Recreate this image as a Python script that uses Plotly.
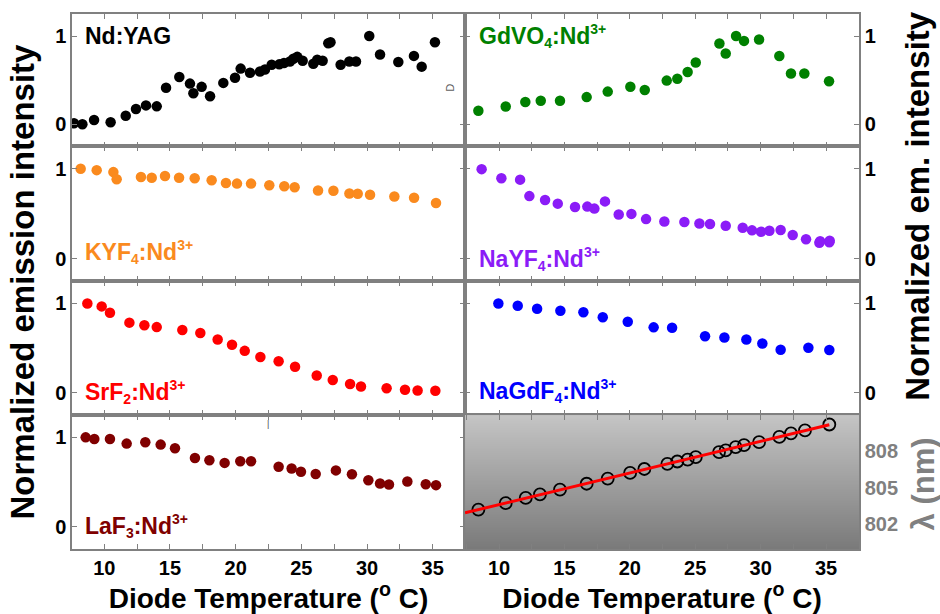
import numpy as np
import plotly.graph_objects as go

# ---------------- data ----------------
yag_T = [7.69, 8.33, 9.22, 10.48, 11.63, 12.41, 13.17, 13.99, 14.70, 15.71, 16.52, 16.78, 17.41, 18.05,
         19.06, 19.95, 20.38, 21.09, 21.85, 22.23, 22.74, 23.32, 23.68, 24.13, 24.39, 24.69, 25.10, 25.91,
         26.21, 26.62, 27.05, 27.22, 27.99, 28.65, 29.16, 30.17, 30.99, 32.38, 33.57, 34.16, 35.17]
yag_I = [0.011, 0.0, 0.048, 0.022, 0.096, 0.173, 0.214, 0.203, 0.413, 0.535, 0.461, 0.351, 0.424, 0.317,
         0.469, 0.528, 0.631, 0.583, 0.598, 0.620, 0.675, 0.679, 0.694, 0.712, 0.742, 0.764, 0.720, 0.686,
         0.731, 0.720, 0.918, 0.930, 0.675, 0.712, 0.712, 1.0, 0.790, 0.705, 0.775, 0.653, 0.930]

gdvo_T = [8.42, 10.51, 12.01, 13.19, 14.66, 16.70, 18.31, 20.04, 21.14, 22.82, 23.63, 24.42, 25.04,
          26.85, 27.33, 28.12, 28.73, 29.88, 31.43, 32.32, 33.34, 35.23]
gdvo_I = [0.154, 0.201, 0.253, 0.267, 0.267, 0.308, 0.370, 0.425, 0.388, 0.495, 0.516, 0.593, 0.700,
          0.916, 0.802, 1.0, 0.945, 0.960, 0.773, 0.575, 0.575, 0.487]

kyf_T = [8.20, 9.42, 10.69, 10.94, 12.79, 13.61, 14.62, 15.69, 16.88, 18.17, 19.26, 20.10, 21.17, 22.56,
         23.70, 24.49, 26.27, 27.44, 28.66, 29.29, 30.23, 32.08, 33.58, 35.25]
kyf_I = [1.0, 0.985, 0.963, 0.883, 0.908, 0.901, 0.919, 0.901, 0.894, 0.872, 0.842, 0.835, 0.835, 0.817,
         0.806, 0.795, 0.758, 0.755, 0.725, 0.722, 0.711, 0.692, 0.678, 0.619]

nayf_T = [8.67, 10.18, 11.61, 12.32, 13.52, 14.49, 15.81, 16.75, 17.29, 18.10, 19.15, 20.12, 21.24, 22.64,
          24.17, 25.32, 26.13, 27.33, 28.63, 29.34, 30.03, 30.67, 31.53, 32.45, 33.47, 34.49, 34.55,
          35.25, 35.28]
nayf_I = [0.996, 0.894, 0.879, 0.696, 0.652, 0.612, 0.575, 0.579, 0.557, 0.637, 0.491, 0.498, 0.440, 0.414,
          0.407, 0.392, 0.385, 0.366, 0.344, 0.315, 0.300, 0.311, 0.319, 0.264, 0.216, 0.176, 0.195,
          0.183, 0.200]

srf_T = [8.71, 9.80, 10.43, 11.91, 13.05, 13.99, 15.94, 17.31, 18.63, 19.72, 20.69, 21.88, 23.27, 24.52,
         26.17, 27.39, 28.71, 29.54, 31.49, 32.89, 33.85, 35.20]
srf_I = [1.0, 0.967, 0.895, 0.785, 0.756, 0.735, 0.702, 0.669, 0.596, 0.538, 0.469, 0.400, 0.353, 0.291,
         0.193, 0.142, 0.098, 0.069, 0.051, 0.033, 0.025, 0.022]

nagdf_T = [9.95, 11.43, 12.91, 14.69, 16.45, 17.93, 19.84, 21.82, 23.23, 25.75, 27.23, 28.91, 30.13,
           31.53, 33.65, 35.25]
nagdf_I = [1.0, 0.974, 0.941, 0.919, 0.901, 0.846, 0.794, 0.732, 0.728, 0.632, 0.618, 0.596, 0.551,
           0.482, 0.504, 0.478]

laf_T = [8.58, 9.24, 10.43, 11.70, 13.12, 14.29, 15.38, 16.90, 18.00, 19.16, 20.35, 21.17, 23.27, 24.26,
         24.97, 26.09, 27.63, 28.85, 30.10, 30.99, 31.67, 33.07, 34.47, 35.25]
laf_I = [1.0, 0.982, 0.982, 0.930, 0.945, 0.919, 0.879, 0.769, 0.744, 0.714, 0.733, 0.733, 0.670, 0.652,
         0.615, 0.590, 0.630, 0.586, 0.520, 0.484, 0.473, 0.505, 0.476, 0.465]

lam_T = [8.42, 10.51, 12.04, 13.13, 14.66, 16.70, 18.31, 20.02, 21.11, 22.87, 23.63, 24.42, 25.04, 26.82,
         27.33, 28.09, 28.73, 29.88, 31.43, 32.32, 33.39, 35.25]
lam_nm = [803.20, 803.73, 804.16, 804.45, 804.83, 805.31, 805.73, 806.19, 806.51, 806.93, 807.12, 807.28,
          807.47, 807.89, 808.03, 808.29, 808.45, 808.69, 809.12, 809.41, 809.65, 810.13]

x_ticks = [10, 15, 20, 25, 30, 35]
x_tick_labels = ["10", "15", "20", "25", "30", "35"]
y_ticks = [0, 1]
y_tick_labels = ["0", "1"]
lam_ticks = [802, 805, 808]
lam_tick_labels = ["802", "805", "808"]

# ---------------- styling ----------------
FONT = "Liberation Sans"
AXC = "#808080"
LEFT_RANGE = [7.54, 37.46]
RIGHT_RANGE = [7.40, 37.52]
Y_RANGE = [-0.25, 1.25]
LAM_RANGE = [800.0, 810.9]


def chem(base, sub, sup=True):
    s = f"{base}<sub><span style='font-size:14px'>{sub}</span></sub>:Nd"
    if sup:
        s += "<sup><span style='font-size:14px'>3+</span></sup>"
    return s


panels = [
    # (T, I, color, label, col, row)
    (yag_T, yag_I, "#000000", "Nd:YAG", 0, 0),
    (gdvo_T, gdvo_I, "#008000", chem("GdVO", "4"), 1, 0),
    (kyf_T, kyf_I, "#FA8A1E", chem("KYF", "4"), 0, 1),
    (nayf_T, nayf_I, "#8B1CF7", chem("NaYF", "4"), 1, 1),
    (srf_T, srf_I, "#FF0000", chem("SrF", "2"), 0, 2),
    (nagdf_T, nagdf_I, "#0000FF", chem("NaGdF", "4"), 1, 2),
    (laf_T, laf_I, "#800000", chem("LaF", "3"), 0, 3),
]
label_y = [1.0, 1.0, 0.07, 0.0, 0.01, 0.015, 0.01]

XSPLIT = 0.4994
xdoms = [[0, XSPLIT], [XSPLIT, 1]]
ydoms = [[0.7527, 1.0], [0.5007, 0.7527], [0.2504, 0.5007], [0.0, 0.2504]]

fig = go.Figure()
layout = dict(
    width=940, height=614,
    margin=dict(l=72, r=81, t=12, b=56),
    paper_bgcolor="white", plot_bgcolor="white",
    showlegend=False,
    font=dict(family=FONT, color="black"),
    annotations=[],
)


def ax_name(prefix, k):
    return prefix if k == 1 else f"{prefix}{k}"


# gradient background for the wavelength panel (axis index 8)
nlev = 80
edges = np.linspace(LAM_RANGE[0], LAM_RANGE[1], nlev + 1)
fig.add_trace(go.Heatmap(
    x=RIGHT_RANGE, y=edges, z=[[v] for v in np.linspace(0, 1, nlev)],
    colorscale=[[0, "#7a7a7a"], [1, "#c4c4c4"]], showscale=False,
    hoverinfo="skip", xaxis="x8", yaxis="y8", zsmooth="best",
))

for i, (T, I, col, lab, c, r) in enumerate(panels):
    k = i + 1
    fig.add_trace(go.Scatter(
        x=T, y=I, mode="markers",
        marker=dict(size=10.5, color=col, line=dict(width=0)),
        xaxis=ax_name("x", k), yaxis=ax_name("y", k),
    ))
    layout["annotations"].append(dict(
        text=lab, xref=f"{ax_name('x', k)} domain", yref=ax_name("y", k),
        x=0.028 if c == 0 else 0.03, y=label_y[i], xanchor="left", yanchor="middle",
        showarrow=False, font=dict(size=23, color=col, family=FONT, weight="bold"),
    ))

# wavelength panel
fig.add_trace(go.Scatter(
    x=lam_T, y=lam_nm, mode="markers",
    marker=dict(symbol="circle-open", size=12, color="black", line=dict(width=1.8)),
    xaxis="x8", yaxis="y8",
))
fit = np.polyfit(lam_T, lam_nm, 1)
fit_x = [RIGHT_RANGE[0], lam_T[-1]]
fig.add_trace(go.Scatter(
    x=fit_x, y=np.polyval(fit, fit_x), mode="lines",
    line=dict(color="#FF0000", width=3), xaxis="x8", yaxis="y8",
))

for k in range(1, 9):
    c = (k - 1) % 2
    r = (k - 1) // 2
    bottom = r == 3
    layout[ax_name("xaxis", k)] = dict(
        domain=xdoms[c], anchor=ax_name("y", k),
        range=LEFT_RANGE if c == 0 else RIGHT_RANGE,
        tickvals=x_ticks, ticktext=x_tick_labels, showticklabels=bottom,
        ticks="inside", ticklen=5, tickwidth=1.2, tickcolor=AXC,
        minor=dict(dtick=2.5, tick0=0, ticks="inside", ticklen=5, tickwidth=1.2, tickcolor=AXC),
        showline=True, linecolor=AXC, linewidth=1.5, mirror="allticks",
        showgrid=False, zeroline=False,
        tickfont=dict(size=20, family=FONT, color="black", weight="bold"),
    )
    if bottom:
        layout[ax_name("xaxis", k)]["title"] = dict(
            text="Diode Temperature (<sup>o</sup> C)", standoff=4,
            font=dict(size=28, family=FONT, color="black", weight="bold"))
    if k < 8:
        layout[ax_name("yaxis", k)] = dict(
            domain=ydoms[r], anchor=ax_name("x", k), range=Y_RANGE,
            tickvals=y_ticks, ticktext=y_tick_labels,
            side="left" if c == 0 else "right",
            ticks="inside", ticklen=5, tickwidth=1.2, tickcolor=AXC,
            showline=True, linecolor=AXC, linewidth=1.5, mirror="allticks",
            showgrid=False, zeroline=False,
            tickfont=dict(size=20, family=FONT, color="black", weight="bold"),
        )
    else:
        layout["yaxis8"] = dict(
            domain=ydoms[3], anchor="x8", range=LAM_RANGE,
            tickvals=lam_ticks, ticktext=lam_tick_labels, side="right",
            ticks="", showline=True, linecolor=AXC, linewidth=1.5, mirror=True,
            showgrid=False, zeroline=False,
            tickfont=dict(size=20, family=FONT, color="#808080", weight="bold"),
        )

# axis titles
layout["annotations"] += [
    dict(text="Normalized emission intensity", xref="paper", yref="paper", x=-0.0635, y=0.5,
         xanchor="center", yanchor="middle", textangle=-90, showarrow=False,
         font=dict(size=33, family=FONT, color="black", weight="bold")),
    dict(text="Normalized em. intensity", xref="paper", yref="paper", x=1.075, y=0.64,
         xanchor="center", yanchor="middle", textangle=-90, showarrow=False,
         font=dict(size=33, family=FONT, color="black", weight="bold")),
    dict(text="\u03bb (nm)", xref="paper", yref="y8", x=1.082, y=805.3,
         xanchor="center", yanchor="middle", textangle=-90, showarrow=False,
         font=dict(size=31, family=FONT, color="#808080", weight="bold")),
    # small artifacts present in the original
    dict(text="D", xref="x", yref="y", x=36.35, y=0.42, textangle=-90, showarrow=False,
         font=dict(size=11, family=FONT, color="#606060")),
    dict(text="|", xref="x7", yref="y7", x=22.45, y=1.15, showarrow=False,
         font=dict(size=9, family=FONT, color="#505050")),
]

fig.update_layout(**layout)
fig.write_html("out.html", config={"displayModeBar": False},
               post_script="document.body.style.margin='0px';")
